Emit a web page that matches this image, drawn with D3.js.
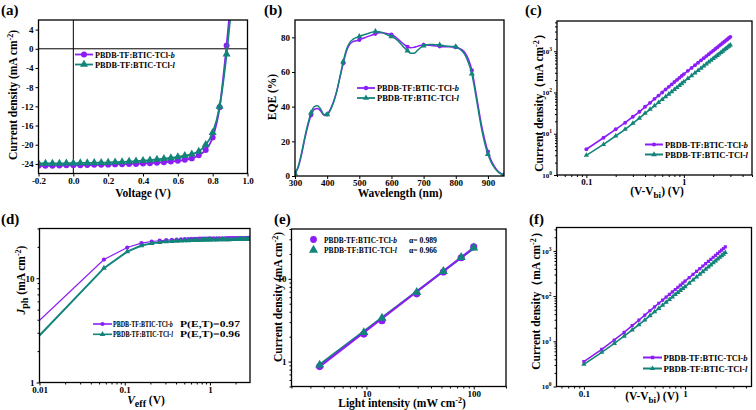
<!DOCTYPE html>
<html lang="en">
<head>
<meta charset="UTF-8">
<title>PBDB-TF:BTIC-TCl device characterisation</title>
<script src="https://d3js.org/d3.v7.min.js"></script>
<style>
  body { margin: 0; background: #fff; }
  svg { display: block; font-family: "Liberation Serif", "Times New Roman", serif; font-weight: bold; }
  .frame { fill: none; stroke: #000; stroke-width: 1.3; }
  .axis path { display: none; }
  .axis line { stroke: #000; stroke-width: 1; }
  .axis text { font-family: "Liberation Serif", serif; font-weight: bold; font-size: 9px; fill: #000; }
  .title { font-size: 11.5px; fill: #000; }
  .plabel { font-size: 15px; }
  .legend text { font-size: 8.5px; }
</style>
</head>
<body>
<svg id="fig" width="756" height="410"></svg>
<script>
const PURPLE = "#8c1ef5", TEAL = "#13847a";
const names = ["b", "l"];

// (a) J-V curves
const jvVoltage = [-0.2, -0.16, -0.12, -0.08, -0.04, 0, 0.04, 0.08, 0.12, 0.16, 0.2, 0.24, 0.28, 0.32, 0.36,
  0.4, 0.44, 0.48, 0.52, 0.56, 0.6, 0.64, 0.68, 0.72, 0.76, 0.8, 0.84, 0.88, 0.92];
const jvB = [-24.4, -24.4, -24.4, -24.35, -24.3, -24.3, -24.3, -24.25, -24.2, -24.2, -24.15, -24.1, -24.05, -24.0, -24.0,
  -23.9, -23.85, -23.75, -23.65, -23.5, -23.35, -23.15, -22.85, -22.2, -21.1, -18.5, -12.2, 0.7, 16];
const jvL = [-23.9, -23.9, -23.9, -23.9, -23.85, -23.85, -23.8, -23.8, -23.75, -23.75, -23.7, -23.65, -23.6, -23.5, -23.4,
  -23.3, -23.2, -23.05, -22.9, -22.75, -22.55, -22.3, -21.95, -21.4, -20.0, -17.5, -12.0, -1.1, 14];

// (b) EQE spectra
const wavelength = [300, 310, 320, 330, 340, 350, 360, 370, 380, 390, 400, 410, 420, 430, 440, 450, 460, 470, 480, 490,
  500, 510, 520, 530, 540, 550, 560, 570, 580, 590, 600, 610, 620, 630, 640, 650, 660, 670, 680, 690,
  700, 710, 720, 730, 740, 750, 760, 770, 780, 790, 800, 810, 820, 830, 840, 850, 860, 870, 880, 890,
  900, 910, 920, 930, 940, 950];
const eqeB = [1.5, 5, 12, 21, 29, 35, 38.5, 39, 37.5, 35, 35.5, 38.5, 43, 49, 57, 65, 72, 76, 77.5, 78,
  78.5, 79.3, 80, 80.7, 81.3, 82, 82.6, 82.7, 82.4, 82, 81.5, 80.5, 79, 77.3, 75.8, 74.5, 74, 74.2, 74.8, 75.3,
  75.6, 75.6, 75.4, 75.2, 75, 74.8, 74.6, 74.5, 74.5, 74.4, 74.3, 73.8, 72.8, 70.8, 67, 61, 51, 40, 29.5, 21,
  14, 9, 5.5, 3, 1.5, 0.5];
const eqeL = [1.5, 5.5, 13, 22, 30, 36.5, 40, 40.5, 38.5, 35.5, 35.5, 38, 42.5, 49, 57.5, 66, 73, 77, 78.8, 79.8,
  80.5, 81.2, 81.8, 82.4, 83, 83.3, 83.2, 82.8, 82, 81.2, 80.5, 79.5, 78, 76, 74, 72.3, 70.8, 70.8, 72.3, 74,
  75.1, 75.7, 75.8, 75.8, 75.7, 75.6, 75.3, 75, 74.8, 74.7, 74.5, 73.5, 72, 69.5, 65, 59, 49, 38, 27.5, 19,
  12.5, 8, 4.8, 2.6, 1.3, 0.5];

// (c) SCLC, first device set
const sclcVc = [0.1, 0.15, 0.2, 0.25, 0.3, 0.35, 0.4, 0.45, 0.5, 0.55, 0.6, 0.65, 0.7, 0.75, 0.8, 0.85, 0.9, 0.95, 1.0,
  1.1, 1.2, 1.3, 1.4, 1.5, 1.6, 1.7, 1.8, 1.9, 2.0, 2.1, 2.2, 2.3, 2.4, 2.5, 2.6, 2.7, 2.8, 2.9, 3.0];
const sclcCB = [4.2, 8.0, 12.8, 18.5, 25.8, 34, 45, 56, 70, 84, 100, 118, 137, 157, 179, 202, 226, 252, 279,
  334, 394, 458, 527, 600, 679, 761, 848, 939, 1033, 1133, 1238, 1348, 1460, 1577, 1700, 1822, 1950, 2082, 2230];
const sclcCL = [3.0, 5.5, 8.8, 12.8, 17.9, 23.8, 31.2, 39, 47.6, 57.2, 67.7, 79, 91.2, 104, 118, 132, 148, 164, 182,
  217, 256, 297, 341, 388, 438, 490, 545, 602, 663, 726, 792, 860, 931, 1006, 1082, 1161, 1243, 1327, 1410];

// (d) photocurrent vs effective voltage
const vEff = [0.0085, 0.057, 0.107, 0.157, 0.207, 0.257, 0.307, 0.357, 0.407, 0.457, 0.507, 0.557, 0.607, 0.657, 0.707,
  0.757, 0.807, 0.857, 0.907, 0.957, 1.007, 1.1, 1.2, 1.3, 1.4, 1.5, 1.6, 1.7, 1.8, 1.9, 2.0, 2.1, 2.2, 2.3, 2.4,
  2.5, 2.6, 2.7, 2.8, 2.9, 3.0];
const jphB = [3.48, 15.1, 19.7, 21.7, 22.5, 22.9, 23.2, 23.4, 23.5, 23.6, 23.7, 23.75, 23.8, 23.85, 23.9,
  23.95, 24.0, 24.0, 24.05, 24.05, 24.1, 24.1, 24.1, 24.15, 24.15, 24.15, 24.2, 24.2, 24.2, 24.2, 24.25, 24.25, 24.25, 24.3, 24.3,
  24.3, 24.3, 24.3, 24.35, 24.35, 24.35];
const jphL = [2.46, 12.5, 18.0, 20.6, 21.6, 22.1, 22.4, 22.6, 22.75, 22.85, 22.95, 23.0, 23.05, 23.1, 23.15,
  23.2, 23.25, 23.3, 23.3, 23.35, 23.4, 23.4, 23.4, 23.45, 23.45, 23.5, 23.5, 23.5, 23.55, 23.55, 23.55, 23.6, 23.6, 23.6, 23.65,
  23.65, 23.65, 23.65, 23.7, 23.7, 23.7];
const pET = ["0.97", "0.96"];

// (e) Jsc vs light intensity
const lightI = [3.66, 9.45, 13.95, 29.4, 52.1, 76.4, 100];
const jscB = [0.87, 2.15, 3.12, 6.58, 12.05, 18.0, 24.3];
const jscL = [0.91, 2.25, 3.36, 6.88, 12.3, 18.2, 23.7];
const fitI = [3.66, 100];
const fitB = [0.87, 23.8];
const fitL = [0.92, 23.3];
const alpha = ["0.989", "0.966"];

// (f) SCLC, second device set
const sclcVf = [0.1, 0.15, 0.2, 0.25, 0.3, 0.35, 0.4, 0.45, 0.5, 0.55, 0.6, 0.65, 0.7, 0.75, 0.8, 0.85, 0.9, 0.95, 1.0,
  1.1, 1.2, 1.3, 1.4, 1.5, 1.6, 1.7, 1.8, 1.9, 2.0, 2.1, 2.2, 2.3, 2.4, 2.5];
const sclcFB = [3.56, 6.66, 10.7, 15.8, 22.2, 29.5, 38, 47.5, 58, 69.5, 81.7, 95, 109, 124, 140, 157, 175, 194, 214,
  256, 303, 352, 406, 463, 522, 586, 653, 725, 798, 877, 959, 1042, 1130, 1225];
const sclcFL = [3.1, 5.7, 9.0, 13.0, 17.8, 23.3, 29.5, 37, 45, 53.5, 63, 73, 84, 96, 109, 121, 134, 147, 161,
  193, 228, 265, 305, 348, 393, 441, 491, 546, 601, 660, 721, 784, 850, 919];

const svg = d3.select("#fig");

// writes text made of parts: {t, it, sup, sub, fs}
function rich(sel, parts) {
  let shift = 0;
  parts.forEach(p => {
    const ts = sel.append("tspan").text(p.t);
    const want = p.sup ? -p.sup : (p.sub ? p.sub : 0);
    if (want !== shift) { ts.attr("dy", want - shift); shift = want; }
    if (p.it) ts.style("font-style", "italic");
    if (p.fs) ts.style("font-size", p.fs + "px");
  });
  return sel;
}

function makePanel(cfg) {
  const g = svg.append("g");
  const x = (cfg.xlog ? d3.scaleLog() : d3.scaleLinear()).domain(cfg.xd).range([cfg.l, cfg.r]);
  const y = (cfg.ylog ? d3.scaleLog() : d3.scaleLinear()).domain(cfg.yd).range([cfg.b, cfg.t]);
  const id = "clip-" + cfg.name;
  svg.append("clipPath").attr("id", id).append("rect")
    .attr("x", cfg.l).attr("y", cfg.t).attr("width", cfg.r - cfg.l).attr("height", cfg.b - cfg.t);
  const plot = g.append("g").attr("clip-path", `url(#${id})`);

  g.append("g").attr("class", "axis").attr("transform", `translate(0,${cfg.b})`)
    .call(d3.axisBottom(x).tickValues(cfg.xt).tickFormat(cfg.xf).tickSize(3).tickPadding(1));
  const ya = g.append("g").attr("class", "axis").attr("transform", `translate(${cfg.l},0)`)
    .call(d3.axisLeft(y).tickValues(cfg.yt).tickFormat(cfg.yf).tickSize(3).tickPadding(2));
  if (cfg.xlog) {
    const minor = x.ticks().filter(v => !cfg.xt.some(t => Math.abs(t - v) < 1e-9));
    g.append("g").attr("class", "axis").attr("transform", `translate(0,${cfg.b})`)
      .call(d3.axisBottom(x).tickValues(minor).tickFormat("").tickSize(2));
  }
  if (cfg.ylog) {
    const minor = y.ticks().filter(v => !cfg.yt.some(t => Math.abs(t - v) < 1e-9));
    g.append("g").attr("class", "axis").attr("transform", `translate(${cfg.l},0)`)
      .call(d3.axisLeft(y).tickValues(minor).tickFormat("").tickSize(2));
  }
  if (cfg.yTickSize) ya.selectAll("text").style("font-size", cfg.yTickSize + "px");
  if (cfg.yPow) {
    ya.selectAll(".tick text").each(function (d) {
      const s = d3.select(this).text(null);
      rich(s, [{ t: "10" }, { t: String(Math.round(Math.log10(d))), sup: 3, fs: 5.5 }]);
    });
  }

  g.append("rect").attr("class", "frame")
    .attr("x", cfg.l).attr("y", cfg.t).attr("width", cfg.r - cfg.l).attr("height", cfg.b - cfg.t);

  g.append("text").attr("class", "plabel").attr("x", cfg.lx).attr("y", cfg.ly).text(cfg.label);

  rich(g.append("text").attr("class", "title").attr("text-anchor", "middle")
    .attr("x", cfg.xtx).attr("y", cfg.xty), cfg.xtitle);
  rich(g.append("text").attr("class", "title").attr("text-anchor", "middle")
    .attr("transform", `translate(${cfg.ytx},${cfg.yty}) rotate(-90)`), cfg.ytitle);

  return { g, plot, x, y };
}

const sym = { circle: d3.symbolCircle, triangle: d3.symbolTriangle, square: d3.symbolSquare };

function series(p, xs, ys, color, opts) {
  const pts = xs.map((v, i) => [v, ys[i]]);
  if (opts.line !== false) {
    p.plot.append("path")
      .attr("d", d3.line().x(d => p.x(d[0])).y(d => p.y(d[1])).curve(opts.curve || d3.curveLinear)(pts))
      .attr("fill", "none").attr("stroke", color).attr("stroke-width", opts.lw || 1.6);
  }
  if (opts.marker) {
    const mpts = opts.every ? pts.filter(d => d[0] % opts.every === 0) : pts;
    p.plot.selectAll(null).data(mpts).join("path")
      .attr("d", d3.symbol(sym[opts.marker], opts.size || 24)())
      .attr("transform", d => `translate(${p.x(d[0])},${p.y(d[1])})`)
      .attr("fill", color);
  }
}

// text squeezed horizontally to a given width (the original uses a narrower face)
function fitText(parent, x, y, w, fs, build) {
  const t = parent.append("text").attr("x", 0).attr("y", 0);
  if (fs) t.style("font-size", fs + "px");
  build(t);
  const nat = t.node().getComputedTextLength();
  t.attr("transform", `translate(${x},${y}) scale(${w / nat},1)`);
  return t;
}

function legend(g, items, cfg) {
  const lg = g.append("g").attr("class", "legend");
  items.forEach((it, i) => {
    const yy = cfg.y + i * cfg.dy;
    if (cfg.x0 !== cfg.x1) {
      lg.append("line").attr("x1", cfg.x0).attr("x2", cfg.x1).attr("y1", yy).attr("y2", yy)
        .attr("stroke", it.color).attr("stroke-width", cfg.lw || 1.8);
    }
    lg.append("path").attr("d", d3.symbol(sym[it.marker], cfg.size || 24)())
      .attr("transform", `translate(${(cfg.x0 + cfg.x1) / 2},${yy})`).attr("fill", it.color);
    fitText(lg, cfg.tx, yy + 3, cfg.tw, cfg.fs,
      t => rich(t, [{ t: "PBDB-TF:BTIC-TCl-" }, { t: names[i], it: true }]));
    if (it.extra) fitText(lg, cfg.ex, yy + 3, cfg.ew, cfg.fs, t => t.text(it.extra));
  });
}

const densityTitle = [{ t: "Current density (mA cm" }, { t: "-2", sup: 4, fs: 8 }, { t: ")" }];

// (a)
const pa = makePanel({
  name: "a", l: 38.5, r: 247.5, t: 20, b: 173.5, xd: [-0.2, 1.0], yd: [-26, 6],
  xt: [-0.2, 0, 0.2, 0.4, 0.6, 0.8, 1.0], xf: d => d.toFixed(1),
  yt: [4, 0, -4, -8, -12, -16, -20, -24], yf: d => String(d),
  label: "(a)", lx: 1, ly: 15,
  xtitle: [{ t: "Voltage (V)" }], xtx: 143, xty: 197,
  ytitle: densityTitle, ytx: 17, yty: 95
});
pa.plot.append("line").attr("x1", pa.x(-0.2)).attr("x2", pa.x(1)).attr("y1", pa.y(0)).attr("y2", pa.y(0))
  .attr("stroke", "#000").attr("stroke-width", 1);
pa.plot.append("line").attr("x1", pa.x(0)).attr("x2", pa.x(0)).attr("y1", pa.y(6)).attr("y2", pa.y(-26))
  .attr("stroke", "#000").attr("stroke-width", 1);
series(pa, jvVoltage, jvB, PURPLE, { marker: "circle", size: 28, lw: 1.8, curve: d3.curveMonotoneX });
series(pa, jvVoltage, jvL, TEAL, { marker: "triangle", size: 28, lw: 1.8, curve: d3.curveMonotoneX });
legend(pa.g, [{ color: PURPLE, marker: "circle" }, { color: TEAL, marker: "triangle" }],
  { x0: 75, x1: 93, tx: 95, tw: 80, y: 54.5, dy: 10, size: 28 });

// (b)
const pb = makePanel({
  name: "b", l: 295, r: 504, t: 20, b: 176, xd: [300, 950], yd: [0, 90],
  xt: [300, 400, 500, 600, 700, 800, 900], xf: d => String(d),
  yt: [0, 20, 40, 60, 80], yf: d => String(d),
  label: "(b)", lx: 264, ly: 15,
  xtitle: [{ t: "Wavelength (nm)" }], xtx: 400, xty: 197,
  ytitle: [{ t: "EQE (%)" }], ytx: 276, yty: 97
});
series(pb, wavelength, eqeB, PURPLE, { marker: "circle", size: 14, every: 50, lw: 1.5, curve: d3.curveMonotoneX });
series(pb, wavelength, eqeL, TEAL, { marker: "triangle", size: 16, every: 50, lw: 1.5, curve: d3.curveMonotoneX });
legend(pb.g, [{ color: PURPLE, marker: "circle" }, { color: TEAL, marker: "triangle" }],
  { x0: 357, x1: 375, tx: 377, tw: 82, y: 88, dy: 10, size: 16 });

// (c)
const pc = makePanel({
  name: "c", l: 557, r: 752, t: 21, b: 175, xlog: true, ylog: true, xd: [0.05, 5], yd: [1, 5400],
  xt: [0.1, 1], xf: d => String(d),
  yt: [1, 10, 100, 1000], yf: d => String(d), yPow: true, yTickSize: 7,
  label: "(c)", lx: 525, ly: 15,
  xtitle: [{ t: "(V-V" }, { t: "bi", sub: 3, fs: 9 }, { t: ") (V)" }], xtx: 657, xty: 195,
  ytitle: [{ t: "Current density（mA cm" }, { t: "-2", sup: 4, fs: 8 }, { t: "）" }], ytx: 543, yty: 100
});
series(pc, sclcVc, sclcCB, PURPLE, { marker: "circle", size: 12, lw: 1.6 });
series(pc, sclcVc, sclcCL, TEAL, { marker: "triangle", size: 12, lw: 1.6 });
legend(pc.g, [{ color: PURPLE, marker: "circle" }, { color: TEAL, marker: "triangle" }],
  { x0: 645, x1: 663, tx: 665, tw: 83, y: 144.5, dy: 10, size: 14, lw: 2 });

// (d)
const pd = makePanel({
  name: "d", l: 39.5, r: 250, t: 228.5, b: 382.5, xlog: true, ylog: true, xd: [0.01, 2.95], yd: [1, 30],
  xt: [0.01, 0.1, 1], xf: d => String(d),
  yt: [1, 10], yf: d => String(d),
  label: "(d)", lx: 1, ly: 224,
  xtitle: [{ t: "V", it: true }, { t: "eff", sub: 3, fs: 10 }, { t: " (V)" }], xtx: 146, xty: 403.5,
  ytitle: [{ t: "J", it: true }, { t: "ph", sub: 3, fs: 10 }, { t: " (mA cm" }, { t: "-2", sup: 4, fs: 8 }, { t: ")" }],
  ytx: 25, yty: 280
});
series(pd, vEff, jphB, PURPLE, { marker: "circle", size: 14, lw: 1.2 });
series(pd, vEff, jphL, TEAL, { marker: "triangle", size: 14, lw: 2 });
legend(pd.g, [{ color: PURPLE, marker: "circle", extra: "P(E,T)=" + pET[0] },
  { color: TEAL, marker: "triangle", extra: "P(E,T)=" + pET[1] }],
  { x0: 93, x1: 112, tx: 113, tw: 60, ex: 180, ew: 60, fs: 7.8, y: 324, dy: 10.3, size: 14, lw: 1.6 });

// (e)
const pe = makePanel({
  name: "e", l: 291.5, r: 506, t: 229, b: 386.5, xlog: true, ylog: true, xd: [2, 200], yd: [0.5, 40],
  xt: [10, 100], xf: d => String(d),
  yt: [1, 10], yf: d => String(d),
  label: "(e)", lx: 274, ly: 224,
  xtitle: [{ t: "Light intensity (mW cm" }, { t: "-2", sup: 4, fs: 8 }, { t: ")" }], xtx: 402, xty: 407,
  ytitle: densityTitle, ytx: 282, yty: 297
});
series(pe, fitI, fitL, TEAL, { lw: 2 });
series(pe, fitI, fitB, PURPLE, { lw: 2 });
series(pe, lightI, jscB, PURPLE, { line: false, marker: "circle", size: 40 });
series(pe, lightI, jscL, TEAL, { line: false, marker: "triangle", size: 36 });
legend(pe.g, [{ color: PURPLE, marker: "circle", extra: "α= " + alpha[0] },
  { color: TEAL, marker: "triangle", extra: "α= " + alpha[1] }],
  { x0: 313.5, x1: 313.5, tx: 324, tw: 73, ex: 409, ew: 28, fs: 8, y: 239.5, dy: 10.5, size: 36 });

// (f)
const pf = makePanel({
  name: "f", l: 556.5, r: 751.5, t: 227.5, b: 386.5, xlog: true, ylog: true, xd: [0.0536, 4.54], yd: [1, 3300],
  xt: [0.1, 1], xf: d => String(d),
  yt: [1, 10, 100, 1000], yf: d => String(d), yPow: true, yTickSize: 7,
  label: "(f)", lx: 529, ly: 224,
  xtitle: [{ t: "(V-V" }, { t: "bi", sub: 3, fs: 9 }, { t: ") (V)" }], xtx: 652, xty: 400,
  ytitle: [{ t: "Current density（mA cm" }, { t: "-2", sup: 4, fs: 8 }, { t: "）" }], ytx: 540, yty: 298
});
series(pf, sclcVf, sclcFB, PURPLE, { marker: "square", size: 10, lw: 1.6 });
series(pf, sclcVf, sclcFL, TEAL, { marker: "triangle", size: 12, lw: 1.6 });
legend(pf.g, [{ color: PURPLE, marker: "square" }, { color: TEAL, marker: "triangle" }],
  { x0: 643, x1: 662, tx: 663.5, tw: 84, y: 357.5, dy: 11, size: 12, lw: 2 });
</script>
</body>
</html>
